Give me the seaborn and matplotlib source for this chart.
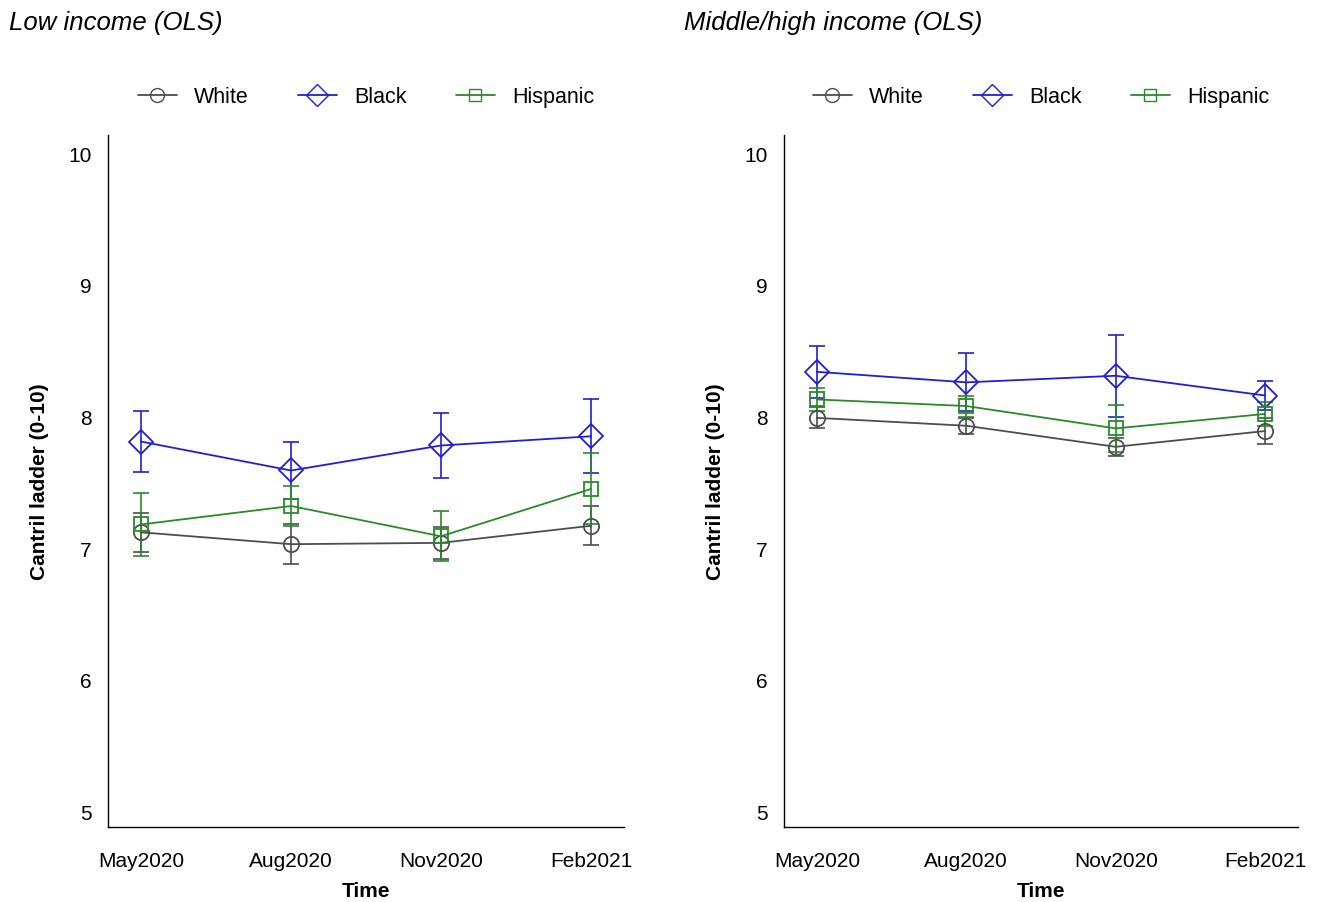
import matplotlib
matplotlib.use("Agg")
import matplotlib.pyplot as plt
import seaborn as sns
import pandas as pd
import numpy as np

waves = ["May2020", "Aug2020", "Nov2020", "Feb2021"]
groups = ["White", "Black", "Hispanic"]

# low income: means and half-width of CI
low_white = [7.12, 7.03, 7.04, 7.17]
low_white_err = [0.15, 0.15, 0.12, 0.15]
low_black = [7.81, 7.59, 7.78, 7.85]
low_black_err = [0.23, 0.22, 0.25, 0.28]
low_hisp = [7.18, 7.32, 7.09, 7.45]
low_hisp_err = [0.24, 0.15, 0.19, 0.27]

# middle/high income
mid_white = [7.99, 7.93, 7.77, 7.89]
mid_white_err = [0.08, 0.06, 0.07, 0.10]
mid_black = [8.34, 8.26, 8.31, 8.16]
mid_black_err = [0.20, 0.22, 0.31, 0.11]
mid_hisp = [8.13, 8.08, 7.91, 8.02]
mid_hisp_err = [0.09, 0.08, 0.18, 0.09]

colors = {"White": "#4d4d4d", "Black": "#1f1fd6", "Hispanic": "#2a8a2a"}
markers = {"White": "o", "Black": "D", "Hispanic": "s"}
msize = {"White": 11, "Black": 12, "Hispanic": 10}


def make_df(w, we, b, be, h, he):
    rows = []
    for g, vals, errs in [("White", w, we), ("Black", b, be), ("Hispanic", h, he)]:
        for i, (v, e) in enumerate(zip(vals, errs)):
            rows.append({"wave": i, "group": g, "value": v, "err": e})
    return pd.DataFrame(rows)


sns.set_theme(style="white")
plt.rcParams["font.family"] = ["Liberation Sans", "DejaVu Sans"]
plt.rcParams["text.color"] = "black"
plt.rcParams["axes.labelcolor"] = "black"
plt.rcParams["xtick.color"] = "black"
plt.rcParams["ytick.color"] = "black"

fig = plt.figure(figsize=(13.21, 9.03), dpi=100)
ax1 = fig.add_axes([0.0818, 0.083, 0.3906, 0.7664])
ax2 = fig.add_axes([0.5935, 0.083, 0.3891, 0.7664])

panels = [
    (ax1, make_df(low_white, low_white_err, low_black, low_black_err, low_hisp, low_hisp_err), "Low income (OLS)", 0.007),
    (ax2, make_df(mid_white, mid_white_err, mid_black, mid_black_err, mid_hisp, mid_hisp_err), "Middle/high income (OLS)", 0.518),
]

for ax, df, title, tx in panels:
    for g in groups:
        d = df[df.group == g]
        ax.errorbar(d.wave, d.value, yerr=d.err, fmt="none", ecolor=colors[g],
                    elinewidth=1.2, capsize=6, capthick=1.2, zorder=2)
    sns.lineplot(data=df, x="wave", y="value", hue="group", style="group",
                 palette=colors, markers=markers, dashes=False, ax=ax,
                 linewidth=1.3, markersize=12, markerfacecolor="none",
                 markeredgewidth=1.3, legend=False, zorder=3)
    # open markers with coloured edges
    for line, g in zip(ax.get_lines()[-3:], groups):
        line.set_markeredgecolor(colors[g])
        line.set_markerfacecolor("none")
        line.set_markersize(msize[g])

    ax.set_xlim(-0.22, 3.22)
    ax.set_ylim(4.88, 10.14)
    ax.set_xticks(range(4))
    ax.set_xticklabels(waves, fontsize=15)
    ax.set_yticks([5, 6, 7, 8, 9, 10])
    ax.set_yticklabels(["5", "6", "7", "8", "9", "10"], fontsize=15)
    ax.tick_params(axis="x", length=0, pad=17)
    ax.tick_params(axis="y", length=0, pad=12)
    ax.set_xlabel("Time", fontsize=15, fontweight="bold", labelpad=8)
    ax.set_ylabel("Cantril ladder (0-10)", fontsize=15, fontweight="bold", labelpad=14)
    for s in ["top", "right"]:
        ax.spines[s].set_visible(False)
    for s in ["left", "bottom"]:
        ax.spines[s].set_color("black")
        ax.spines[s].set_linewidth(1.0)
    fig.text(tx, 0.975, title, fontsize=18.5, style="italic", ha="left", va="center")

    handles = [plt.Line2D([], [], color=colors[g], marker=markers[g], markersize=msize[g] - 1,
                          markerfacecolor="none", markeredgecolor=colors[g], linewidth=1.3)
               for g in groups]
    ax.legend(handles, groups, loc="center", bbox_to_anchor=(0.5, 1.055), ncol=3,
              frameon=False, fontsize=15.5, handlelength=1.8, columnspacing=2.3)

fig.savefig("out.png", dpi=100)
